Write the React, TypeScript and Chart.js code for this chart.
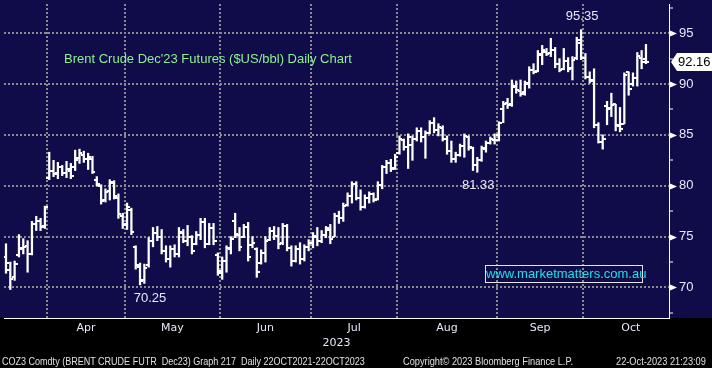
import React, { useEffect, useRef } from 'react';
import { Chart, registerables } from 'chart.js';

Chart.register(...registerables);

// Daily OHLC, Brent Crude Dec'23 futures, 20-Mar-2023 .. 20-Oct-2023 (one entry per trading day)
const opens = [
  73.0, 71.7, 71.0, 73.2, 73.9, 74.1, 73.3, 76.2, 76.5, 76.0,
  80.8, 81.5, 81.3, 81.8, 81.3, 81.5, 81.8, 82.7, 83.0, 82.6, 82.6, 80.6, 80.0, 78.6, 79.5, 80.4, 78.8, 77.0,
  76.2, 77.6, 74.0, 72.0, 70.7, 72.2, 74.6, 75.4, 75.0, 73.6, 72.8, 73.8, 73.3, 75.4, 74.6, 75.0, 74.3, 75.2, 76.4, 74.3, 75.8, 73.2,
  71.4, 72.6, 73.8, 76.5, 75.2, 75.0, 75.9, 74.2, 73.8, 72.4, 73.4, 74.7, 75.6, 75.1, 74.4, 76.0, 73.9, 72.6, 73.8, 72.8, 74.0,
  74.4, 75.0, 74.6, 75.2, 75.7, 75.0, 77.0, 76.8, 78.1, 79.0, 80.2, 78.8, 77.9, 78.8, 79.2, 78.7, 80.1, 81.8, 82.2, 81.7,
  83.2, 84.5, 83.8, 84.0, 84.6, 85.4, 84.8, 85.2, 86.2, 85.5, 85.7, 84.6, 83.4, 82.6, 83.0, 83.9, 84.8, 83.7, 82.0, 82.5, 83.6, 84.2, 84.5,
  85.0, 87.5, 88.1, 88.0, 89.8, 89.3, 89.2, 90.1, 91.4, 91.3, 92.9, 93.2, 93.1, 93.3, 92.0, 91.5, 92.3, 91.6, 92.6, 94.0,
  92.6, 90.7, 90.3, 86.0, 84.3, 87.8, 87.6, 88.0, 85.9, 86.1, 91.2, 90.0, 90.6, 92.6, 92.5,
];
const highs = [
  74.3, 72.5, 72.6, 75.2, 74.8, 74.6, 76.5, 77.0, 76.8, 78.0,
  83.3, 82.5, 82.3, 82.0, 82.4, 82.2, 83.5, 83.6, 83.4, 83.2, 82.9, 80.9, 80.1, 79.7, 80.6, 80.5, 79.2, 77.3,
  78.3, 77.8, 74.1, 72.4, 72.3, 74.9, 75.9, 76.0, 75.7, 74.1, 74.1, 74.2, 75.9, 75.7, 76.1, 75.1, 75.5, 76.8, 76.8, 76.3, 76.3, 73.4,
  73.0, 74.1, 75.0, 77.3, 75.9, 76.2, 76.4, 75.0, 73.9, 73.7, 75.0, 75.9, 76.0, 75.9, 76.3, 76.2, 74.1, 74.1, 74.4, 74.2, 74.7,
  75.4, 75.9, 75.6, 76.0, 76.2, 77.3, 77.5, 78.3, 79.3, 80.4, 80.4, 79.6, 79.1, 79.4, 79.3, 80.4, 82.0, 82.5, 82.6, 83.1,
  84.9, 84.6, 85.1, 84.9, 85.7, 85.7, 85.4, 86.4, 86.7, 86.1, 85.9, 84.9, 84.4, 83.3, 84.1, 85.1, 84.9, 83.8, 82.8, 83.9, 84.4, 84.8, 85.1,
  86.3, 88.3, 88.6, 90.4, 90.3, 90.4, 90.3, 91.7, 92.0, 93.3, 93.8, 93.5, 94.5, 93.6, 92.5, 93.5, 92.6, 92.7, 94.6, 95.35,
  93.0, 91.2, 91.5, 86.2, 85.0, 88.3, 89.1, 88.0, 87.7, 91.1, 91.2, 91.1, 93.1, 93.3, 93.9,
];
const lows = [
  71.4, 69.8, 70.7, 73.0, 73.3, 71.5, 73.2, 75.6, 75.6, 75.8,
  80.6, 80.9, 80.7, 81.0, 80.8, 80.7, 81.5, 82.2, 82.3, 81.6, 81.2, 80.0, 78.2, 78.4, 78.6, 78.7, 76.8, 75.8,
  75.7, 75.2, 71.8, 70.25, 70.4, 72.0, 74.0, 74.6, 73.3, 72.5, 72.0, 73.0, 73.0, 74.4, 74.1, 73.3, 74.2, 74.7, 73.9, 74.2, 74.2, 71.2,
  70.8, 71.5, 73.3, 74.9, 73.6, 74.9, 72.6, 73.9, 71.0, 72.3, 72.5, 74.6, 74.7, 73.8, 74.2, 73.6, 72.1, 72.5, 72.3, 72.6, 73.6,
  73.9, 74.1, 74.4, 74.9, 74.3, 75.0, 76.3, 76.5, 78.0, 78.3, 78.6, 77.6, 77.8, 78.3, 78.4, 78.6, 79.7, 81.2, 81.4, 81.6,
  83.1, 83.5, 81.7, 82.5, 84.4, 84.3, 82.7, 85.1, 85.2, 84.9, 84.4, 83.1, 82.3, 82.3, 82.9, 82.8, 83.5, 81.5, 81.33, 82.4, 83.3, 84.1, 84.1,
  84.4, 86.2, 87.6, 87.8, 89.1, 88.8, 88.9, 89.6, 91.0, 91.2, 91.9, 92.8, 92.7, 91.6, 91.2, 91.4, 91.2, 90.4, 92.4, 92.4,
  90.5, 90.1, 85.7, 84.2, 83.6, 86.0, 86.8, 85.4, 85.3, 86.1, 88.9, 89.8, 89.8, 91.5, 92.0,
];
const closes = [
  72.4, 70.8, 72.3, 73.8, 74.0, 73.3, 76.2, 76.5, 75.9, 77.9,
  81.5, 81.2, 81.8, 81.3, 81.6, 81.0, 82.5, 83.2, 82.6, 82.8, 81.4, 80.2, 78.5, 79.4, 80.3, 79.0, 77.2, 76.1,
  77.9, 75.5, 72.2, 70.6, 71.9, 74.6, 75.4, 75.0, 73.6, 72.8, 73.8, 73.3, 75.5, 74.6, 75.0, 73.6, 75.2, 76.4, 74.3, 75.8, 74.6, 71.6,
  72.6, 73.9, 74.8, 75.3, 74.0, 75.9, 73.0, 74.4, 71.5, 73.4, 74.6, 75.6, 75.1, 74.3, 76.0, 73.9, 72.6, 73.8, 72.8, 74.0, 74.4,
  75.1, 74.6, 75.2, 75.8, 74.8, 77.0, 76.8, 78.0, 79.0, 80.2, 78.8, 77.9, 78.8, 79.2, 78.6, 80.1, 81.8, 82.2, 81.6, 82.8,
  84.6, 83.8, 84.8, 84.6, 85.4, 84.8, 85.2, 86.2, 85.5, 85.8, 84.6, 83.4, 82.6, 83.0, 83.9, 84.9, 83.8, 82.0, 82.5, 83.7, 84.2, 84.6, 84.5,
  86.2, 88.0, 87.9, 89.7, 89.4, 89.0, 90.0, 91.4, 91.2, 93.0, 93.3, 93.0, 93.3, 92.0, 91.4, 92.3, 91.5, 92.4, 94.3, 92.6,
  90.7, 90.4, 86.0, 84.3, 84.6, 87.5, 87.9, 86.0, 85.6, 90.9, 89.5, 90.6, 92.8, 92.2, 92.16,
];

// Month axis: labels and index of each month's first trading day
const monthLabels = ['Apr', 'May', 'Jun', 'Jul', 'Aug', 'Sep', 'Oct'];
const monthStartIndex = [10, 28, 50, 71, 91, 114, 134];
const lastMonthTradingDays = 22;
const yearLabel = '2023';

// Right axis ticks
const yMajorTicks = [70, 75, 80, 85, 90, 95];
const yMinorTicks = [67.5, 72.5, 77.5, 82.5, 87.5, 92.5, 97.5];

// Annotated bars: index and which value is labelled
const callouts = [
  { index: 31, field: 'low' },
  { index: 109, field: 'low' },
  { index: 133, field: 'high' },
];

const titleText = "Brent Crude Dec'23 Futures ($US/bbl) Daily Chart";
const siteText = 'www.marketmatters.com.au';
const footerLeft = 'COZ3 Comdty (BRENT CRUDE FUTR  Dec23) Graph 217  Daily 22OCT2021-22OCT2023';
const footerMid = 'Copyright\u00A9 2023 Bloomberg Finance L.P.';
const footerRight = '22-Oct-2023 21:23:09';

const NAVY = '#100c4a';
const GRID = '#8a8a8e';
const LABEL = '#e8e8f8';

export default function App() {
  const canvasRef = useRef<HTMLCanvasElement | null>(null);

  useEffect(() => {
    document.body.style.margin = '0';
    const canvas = canvasRef.current;
    if (!canvas) return;

    const makeTick = (side: 'left' | 'right') => {
      const c = document.createElement('canvas');
      c.width = 6;
      c.height = 2;
      const cx = c.getContext('2d')!;
      cx.fillStyle = '#ffffff';
      cx.fillRect(side === 'left' ? 0 : 3, 0, 3, 2);
      return c;
    };
    const openImg = makeTick('left');
    const closeImg = makeTick('right');

    const boundaries = monthStartIndex.map((s) => s - 0.5);
    const mids = boundaries.map((b, k) =>
      k < boundaries.length - 1 ? (b + boundaries[k + 1]) / 2 : b + lastMonthTradingDays / 2
    );
    const xTicks = [...boundaries, ...mids].sort((a, b) => a - b);
    const isBoundary = (v: number) => boundaries.some((b) => Math.abs(b - v) < 1e-6);
    const labelFor = (v: number) => {
      const k = mids.findIndex((m) => Math.abs(m - v) < 1e-6);
      return k >= 0 ? monthLabels[k] : '';
    };

    const decor = {
      id: 'decor',
      beforeDraw(chart: any) {
        const { ctx, width, height, chartArea } = chart;
        ctx.save();
        ctx.fillStyle = '#000';
        ctx.fillRect(0, 0, width, height);
        ctx.fillStyle = NAVY;
        ctx.fillRect(0, 0, width, chartArea.bottom);
        ctx.restore();
      },
      afterDraw(chart: any) {
        const { ctx, chartArea, scales } = chart;
        const xs = scales.x;
        const ys = scales.y;
        const right = chartArea.right;
        ctx.save();
        ctx.fillStyle = '#ffffff';
        for (const v of yMajorTicks) {
          const py = Math.round(ys.getPixelForValue(v)) + 0.5;
          ctx.beginPath();
          ctx.moveTo(right + 1, py - 3);
          ctx.lineTo(right + 8, py);
          ctx.lineTo(right + 1, py + 3);
          ctx.closePath();
          ctx.fill();
        }
        ctx.font = '13px "Liberation Sans", Arial, sans-serif';
        ctx.textAlign = 'center';
        ctx.textBaseline = 'middle';
        ctx.fillStyle = LABEL;
        for (const c of callouts) {
          const v = c.field === 'low' ? lows[c.index] : highs[c.index];
          const px = xs.getPixelForValue(c.index);
          const py = ys.getPixelForValue(v);
          const dx = c.index === 31 ? 10 : 1;
          const ty = c.field === 'low' ? py + 13 : py - 13;
          ctx.fillText(v.toFixed(2), px + dx, ty);
        }
        const last = closes[closes.length - 1];
        const ty = ys.getPixelForValue(last);
        ctx.fillStyle = '#ffffff';
        ctx.beginPath();
        ctx.moveTo(right + 2, ty);
        ctx.lineTo(right + 8, ty - 9);
        ctx.lineTo(chart.width, ty - 9);
        ctx.lineTo(chart.width, ty + 9);
        ctx.lineTo(right + 8, ty + 9);
        ctx.closePath();
        ctx.fill();
        ctx.fillStyle = '#000000';
        ctx.textAlign = 'left';
        ctx.fillText(last.toFixed(2), right + 9, ty + 0.5);
        ctx.restore();
      },
    };

    const chart = new Chart(canvas, {
      type: 'bar',
      data: {
        datasets: [
          {
            type: 'bar',
            data: highs.map((h, i) => ({ x: i, y: [lows[i], h] })) as any,
            backgroundColor: '#ffffff',
            borderWidth: 0,
            barThickness: 1.6,
            grouped: false,
          } as any,
          {
            type: 'line',
            data: opens.map((o, i) => ({ x: i, y: o })),
            showLine: false,
            pointStyle: openImg,
            pointRadius: 3,
            pointHoverRadius: 3,
          } as any,
          {
            type: 'line',
            data: closes.map((c, i) => ({ x: i, y: c })),
            showLine: false,
            pointStyle: closeImg,
            pointRadius: 3,
            pointHoverRadius: 3,
          } as any,
        ],
      },
      options: {
        animation: false,
        responsive: false,
        events: [],
        layout: { padding: 0 },
        plugins: { legend: { display: false }, tooltip: { enabled: false } },
        scales: {
          x: {
            type: 'linear',
            position: 'bottom',
            min: -0.46,
            max: 153.33,
            offset: false,
            afterBuildTicks: (s: any) => {
              s.ticks = xTicks.map((v) => ({ value: v }));
            },
            afterFit: (s: any) => {
              s.height = 50;
              s.paddingLeft = 0;
              s.paddingRight = 0;
            },
            ticks: {
              autoSkip: false,
              maxRotation: 0,
              minRotation: 0,
              color: LABEL,
              padding: 4,
              font: { family: '"DejaVu Sans", sans-serif', size: 11 },
              callback: (v: any) => labelFor(Number(v)),
            },
            grid: {
              offset: false,
              color: (c: any) => (c.tick && isBoundary(c.tick.value) ? GRID : 'transparent'),
              lineWidth: 2,
              drawTicks: false,
            },
            border: { display: true, color: '#ffffff', width: 1, dash: [2, 2] },
            title: {
              display: true,
              text: yearLabel,
              color: LABEL,
              font: { family: '"DejaVu Sans", sans-serif', size: 11 },
              padding: { top: 0, bottom: 18 },
            },
          },
          y: {
            type: 'linear',
            position: 'right',
            min: 67,
            max: 97.87,
            afterBuildTicks: (s: any) => {
              s.ticks = [...yMajorTicks, ...yMinorTicks].sort((a, b) => a - b).map((v) => ({ value: v }));
            },
            afterFit: (s: any) => {
              s.width = 43;
              s.paddingTop = 0;
              s.paddingBottom = 0;
            },
            ticks: {
              color: LABEL,
              padding: 6,
              font: { family: '"Liberation Sans", Arial, sans-serif', size: 13 },
              callback: (v: any) => (yMajorTicks.includes(Number(v)) ? String(v) : ''),
            },
            grid: {
              offset: false,
              color: (c: any) => (c.tick && yMajorTicks.includes(c.tick.value) ? GRID : 'transparent'),
              lineWidth: 2,
              drawTicks: true,
              tickLength: 4,
              tickWidth: 1,
              tickColor: (c: any) => (c.tick && yMajorTicks.includes(c.tick.value) ? 'transparent' : '#ffffff'),
            },
            border: { display: true, color: '#ffffff', width: 1, dash: [2, 2] },
          },
        },
      } as any,
      plugins: [decor],
    });

    return () => chart.destroy();
  }, []);

  const footerStyle: React.CSSProperties = {
    position: 'absolute',
    top: 355,
    fontFamily: '"Liberation Sans", Arial, sans-serif',
    fontSize: 11,
    lineHeight: '12px',
    color: '#e0e0e0',
    whiteSpace: 'pre',
    transform: 'scaleX(0.84)',
    transformOrigin: 'left center',
  };

  return (
    <div style={{ position: 'relative', width: 712, height: 368, background: '#000', overflow: 'hidden' }}>
      <canvas ref={canvasRef} width={712} height={368} style={{ display: 'block', width: 712, height: 368 }} />
      <div
        style={{
          position: 'absolute',
          left: 64,
          top: 51,
          fontFamily: '"Liberation Sans", Arial, sans-serif',
          fontSize: 13,
          lineHeight: '16px',
          color: '#8ef08e',
          whiteSpace: 'nowrap',
        }}
      >
        {titleText}
      </div>
      <div
        style={{
          position: 'absolute',
          left: 485,
          top: 265,
          width: 158,
          height: 18,
          boxSizing: 'border-box',
          border: '1px solid #e4e4e4',
          fontFamily: '"Liberation Sans", Arial, sans-serif',
          fontSize: 13,
          lineHeight: '16px',
          color: '#1ee0e6',
          textAlign: 'center',
          whiteSpace: 'nowrap',
        }}
      >
        {siteText}
      </div>
      <div style={{ ...footerStyle, left: 2, transform: 'scaleX(0.82)' }}>{footerLeft}</div>
      <div style={{ ...footerStyle, left: 403 }}>{footerMid}</div>
      <div style={{ ...footerStyle, left: 616 }}>{footerRight}</div>
    </div>
  );
}
